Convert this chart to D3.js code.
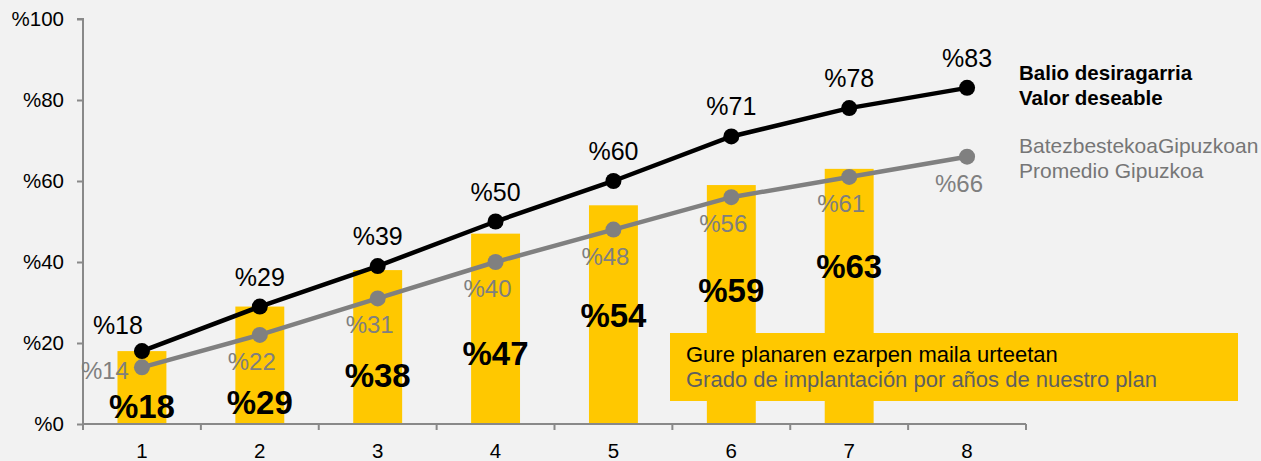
<!DOCTYPE html>
<html>
<head>
<meta charset="utf-8">
<script src="https://cdnjs.cloudflare.com/ajax/libs/d3/7.8.5/d3.min.js"></script>
<style>
	html, body { margin: 0; padding: 0; background: #f2f2f2; }
	svg { display: block; font-family: "Liberation Sans", Arial, sans-serif; }
	.axis path, .axis line { stroke: #898989; stroke-width: 2; }
	.axis text { fill: #000; font-size: 20.5px; }
</style>
</head>
<body>
<svg id="chart"></svg>
<script>
// data
const years = [1, 2, 3, 4, 5, 6, 7, 8];
const planShare = [18, 29, 38, 47, 54, 59, 63];           // yellow bars, years 1-7
const planLabelLevel = [4.5, 5.5, 12, 17.5, 27, 33, 39];  // where the bold bar labels sit (in % units)
const desiredValue = [18, 29, 39, 50, 60, 71, 78, 83];    // black line
const gipuzkoaAvg = [14, 22, 31, 40, 48, 56, 61, 66];     // grey line
const yTicks = [0, 20, 40, 60, 80, 100];

const legendDesired = ['Balio desiragarria', 'Valor deseable'];
const legendAvg = ['BatezbestekoaGipuzkoan', 'Promedio Gipuzkoa'];
const boxText = ['Gure planaren ezarpen maila urteetan', 'Grado de implantación por años de nuestro plan'];

const gold = '#ffc800';
const grey = '#808080';

// dimensions
const W = 1261, H = 461;
const margin = {top: 19, bottom: 37, left: 83, right: 235};
const width = W - margin.left - margin.right;
const height = H - margin.top - margin.bottom;

const $svg = d3.select('#chart').attr('width', W).attr('height', H);
const $vis = $svg.append('g')
	.attr('transform', 'translate(' + margin.left + ',' + margin.top + ')');

// scales
const scaleX = d3.scaleBand()
	.domain(years)
	.range([0, width])
	.padding(0);

const scaleY = d3.scaleLinear()
	.domain([0, 100])
	.range([height, 0]);

const cx = d => scaleX(d) + scaleX.bandwidth() / 2;
const barW = scaleX.bandwidth() * 0.415;

// bars
const barData = planShare.map((v, i) => ({year: years[i], share: v, at: planLabelLevel[i]}));

$vis.selectAll('.bar')
	.data(barData)
	.enter()
	.append('rect')
	.attr('class', 'bar')
	.attr('x', d => cx(d.year) - barW / 2)
	.attr('y', d => scaleY(d.share))
	.attr('width', barW)
	.attr('height', d => height - scaleY(d.share))
	.attr('fill', gold);

// axes
const $yAxis = $vis.append('g')
	.attr('class', 'axis axis--y')
	.call(d3.axisLeft(scaleY).tickValues(yTicks).tickSize(6).tickPadding(13).tickFormat(d => '%' + d));
$yAxis.select('.domain').attr('d', 'M0,' + height + 'V0H-6');

const $xAxis = $vis.append('g')
	.attr('class', 'axis axis--x')
	.attr('transform', 'translate(0,' + height + ')')
	.call(d3.axisBottom(scaleX).tickSize(0).tickPadding(19));
$xAxis.select('.domain').attr('d', 'M0,0H' + width);

// tick marks on the category boundaries
const edges = years.map(d => scaleX(d)).concat([scaleX.range()[1]]);
$xAxis.selectAll('.edge')
	.data(edges)
	.enter()
	.append('line')
	.attr('class', 'edge')
	.attr('x1', d => d).attr('x2', d => d)
	.attr('y1', 0).attr('y2', 6);

// lines
const lineGen = d3.line()
	.x(d => cx(d.year))
	.y(d => scaleY(d.v));

const series = [
	{key: 'desired', color: '#000', values: desiredValue.map((v, i) => ({year: years[i], v: v}))},
	{key: 'avg', color: grey, values: gipuzkoaAvg.map((v, i) => ({year: years[i], v: v}))}
];

series.slice().reverse().forEach(s => {
	$vis.append('path')
		.datum(s.values)
		.attr('d', lineGen)
		.attr('fill', 'none')
		.attr('stroke', s.color)
		.attr('stroke-width', 4.5);

	$vis.selectAll('.dot-' + s.key)
		.data(s.values)
		.enter()
		.append('circle')
		.attr('class', 'dot-' + s.key)
		.attr('cx', d => cx(d.year))
		.attr('cy', d => scaleY(d.v))
		.attr('r', 8)
		.attr('fill', s.color);
});

// grey line labels (below the points, first one to the left)
$vis.selectAll('.avgLabel')
	.data(series[1].values)
	.enter()
	.append('text')
	.attr('class', 'avgLabel')
	.attr('x', (d, i) => i === 0 ? cx(d.year) - 13 : cx(d.year) - 8)
	.attr('y', (d, i) => i === 0 ? scaleY(d.v) + 12 : scaleY(d.v) + 35)
	.attr('text-anchor', (d, i) => i === 0 ? 'end' : 'middle')
	.style('font-size', '24px')
	.style('fill', '#7f7f7f')
	.text(d => '%' + d.v);

// black line labels (above the points)
$vis.selectAll('.desiredLabel')
	.data(series[0].values)
	.enter()
	.append('text')
	.attr('class', 'desiredLabel')
	.attr('x', (d, i) => i === 0 ? cx(d.year) + 1 : cx(d.year))
	.attr('y', (d, i) => i === 0 ? scaleY(d.v) - 17 : scaleY(d.v) - 21)
	.attr('text-anchor', (d, i) => i === 0 ? 'end' : 'middle')
	.style('font-size', '25px')
	.style('fill', '#000')
	.text(d => '%' + d.v);

// bold bar labels
$vis.selectAll('.barLabel')
	.data(barData)
	.enter()
	.append('text')
	.attr('class', 'barLabel')
	.attr('x', d => cx(d.year))
	.attr('y', d => scaleY(d.at) + 12)
	.attr('text-anchor', 'middle')
	.style('font-size', '33px')
	.style('font-weight', 'bold')
	.style('fill', '#000')
	.text(d => '%' + d.share);

// callout box
const $box = $svg.append('g').attr('transform', 'translate(670,333)');
$box.append('rect')
	.attr('width', 568)
	.attr('height', 68)
	.attr('fill', gold);
$box.selectAll('text')
	.data(boxText)
	.enter()
	.append('text')
	.attr('x', 16)
	.attr('y', (d, i) => 29 + i * 25)
	.style('font-size', '22px')
	.style('fill', (d, i) => i === 0 ? '#000' : '#5f5f5f')
	.text(d => d);

// legend
const $legend = $svg.append('g').attr('transform', 'translate(1019,0)');
$legend.selectAll('.legDesired')
	.data(legendDesired)
	.enter()
	.append('text')
	.attr('class', 'legDesired')
	.attr('y', (d, i) => 80 + i * 25)
	.style('font-size', '20.5px')
	.style('font-weight', 'bold')
	.style('fill', '#000')
	.text(d => d);

$legend.selectAll('.legAvg')
	.data(legendAvg)
	.enter()
	.append('text')
	.attr('class', 'legAvg')
	.attr('y', (d, i) => 153 + i * 25)
	.style('font-size', '21px')
	.style('fill', '#767676')
	.text(d => d);
</script>
</body>
</html>
